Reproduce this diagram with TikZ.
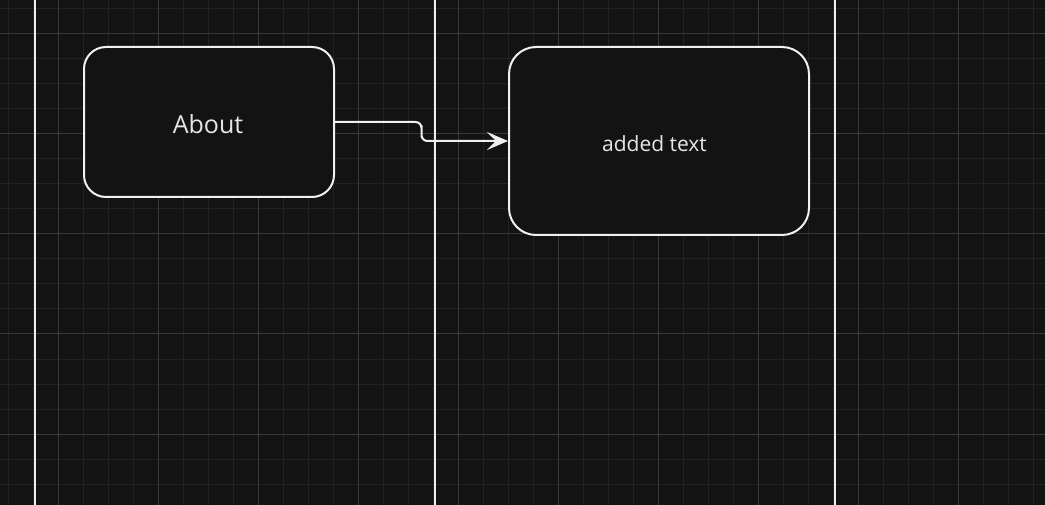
\documentclass[tikz,border=0pt]{standalone}
\usepackage{fontspec}
\setmainfont{Open Sans}
\usetikzlibrary{arrows.meta,calc}
\definecolor{bgc}{HTML}{131313}
\definecolor{minorc}{HTML}{222222}
\definecolor{majorc}{HTML}{393939}
\definecolor{edgec}{HTML}{F0F0F0}
\definecolor{txtc}{HTML}{E6E6E6}
\tikzset{
  boxnode/.style={draw=edgec, line width=2pt, fill=bgc, text=txtc, inner sep=0pt},
  lane/.style={draw=edgec, line width=2.5pt},
  conn/.style={draw=edgec, line width=2pt, rounded corners=6pt,
    -{Stealth[length=21pt,width=18pt,inset=9pt,line width=1pt]}}
}
\begin{document}
\begin{tikzpicture}[x=1pt,y=-1pt]
\useasboundingbox (0,0) rectangle (1045,505);
\fill[bgc] (0,0) rectangle (1045,505);
% minor grid
\foreach \i in {0,...,41} { \draw[minorc, line width=1pt] (8+25*\i,0) -- (8+25*\i,505); }
\foreach \j in {0,...,19} { \draw[minorc, line width=1pt] (0,9+25*\j) -- (1045,9+25*\j); }
% major grid
\foreach \i in {0,...,9} { \draw[majorc, line width=1pt] (58+100*\i,0) -- (58+100*\i,505); }
\foreach \j in {0,...,4} { \draw[majorc, line width=1pt] (0,34+100*\j) -- (1045,34+100*\j); }
% lanes
\draw[lane] (35,0) -- (35,505);
\draw[lane] (435,0) -- (435,505);
\draw[lane] (835,0) -- (835,505);
% nodes
\node[boxnode, rounded corners=22pt, minimum width=250pt, minimum height=150pt,
  font=\fontsize{25}{30}\selectfont] (about) at (209,122) {\raisebox{-2pt}[\height][\depth]{\hspace*{-2pt}About}};
\node[boxnode, rounded corners=27pt, minimum width=300pt, minimum height=188pt,
  font=\fontsize{21}{25}\selectfont] (added) at (659,141) {\raisebox{-2.5pt}[\height][\depth]{\hspace*{-9pt}added text}};
% connector
\draw[conn] (about.east) -| ($(about.east)!0.5!(added.west)$) |- (added.west);
\end{tikzpicture}
\end{document}
